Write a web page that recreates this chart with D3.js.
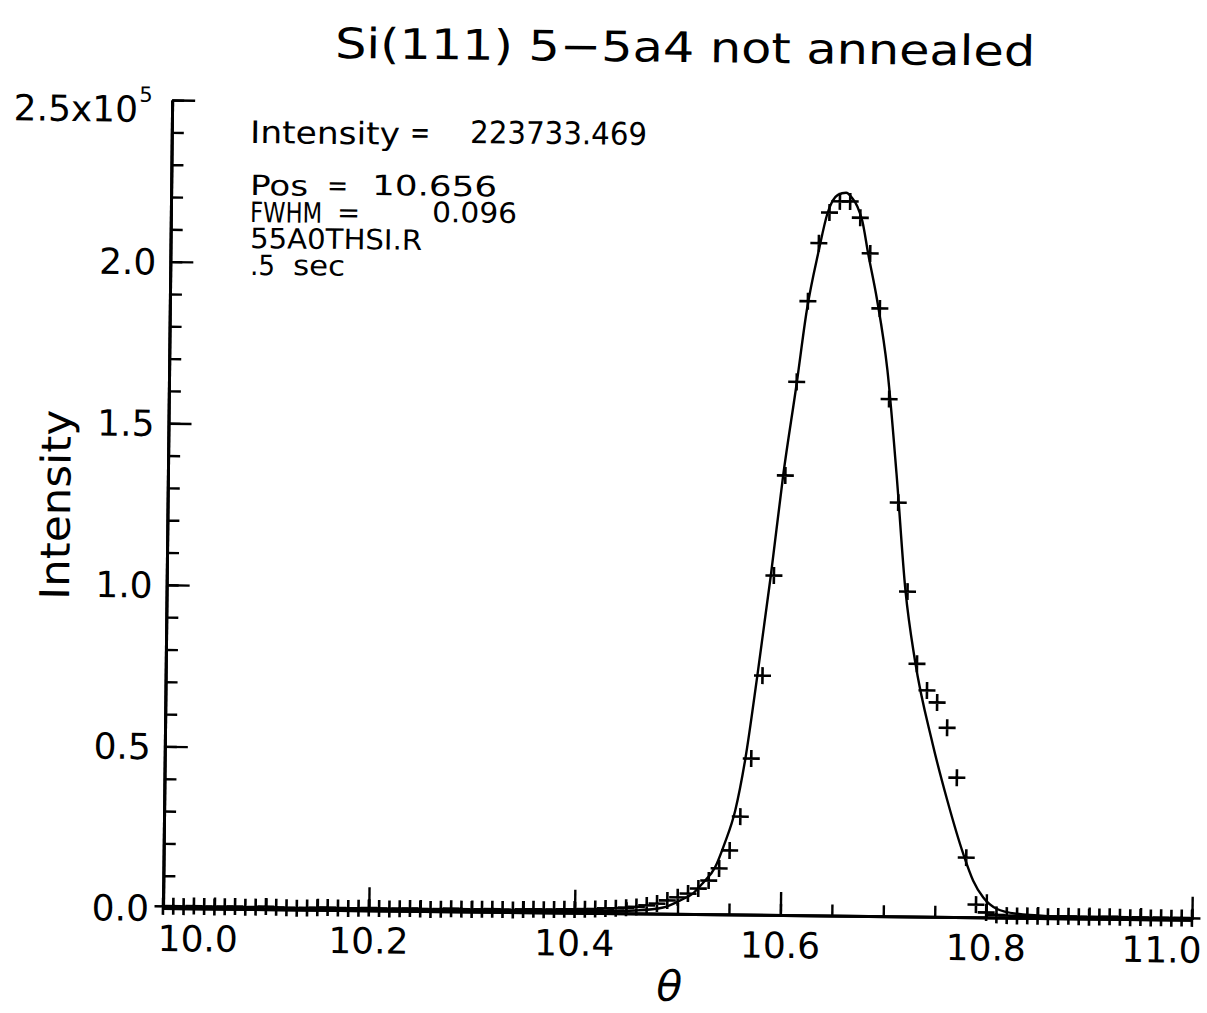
<!DOCTYPE html>
<html><head><meta charset="utf-8">
<script src="https://cdn.jsdelivr.net/npm/d3@7"></script>
<style>html,body{margin:0;padding:0;background:#fff;} svg{display:block;}</style>
</head><body>
<svg id="chart" width="1207" height="1013"></svg>
<script>
// ---------- data ----------
const thetaValues = [
 10.00,10.01,10.02,10.03,10.04,10.05,10.06,10.07,10.08,10.09,
 10.10,10.11,10.12,10.13,10.14,10.15,10.16,10.17,10.18,10.19,
 10.20,10.21,10.22,10.23,10.24,10.25,10.26,10.27,10.28,10.29,
 10.30,10.31,10.32,10.33,10.34,10.35,10.36,10.37,10.38,10.39,
 10.40,10.41,10.42,10.43,10.44,10.45,10.46,10.47,10.48,10.49,
 10.50,10.51,10.52,10.53,10.54,10.55,10.56,10.57,10.58,10.59,
 10.60,10.61,10.62,10.63,10.64,10.65,10.66,10.67,10.68,10.69,
 10.70,10.71,10.72,10.73,10.74,10.75,10.76,10.77,10.78,10.79,
 10.80,10.81,10.82,10.83,10.84,10.85,10.86,10.87,10.88,10.89,
 10.90,10.91,10.92,10.93,10.94,10.95,10.96,10.97,10.98,10.99,
 11.00];
const intensityValues = [
 500,600,500,700,600,500,600,700,500,600,
 800,600,500,400,500,600,700,600,500,600,
 700,600,500,600,700,600,500,600,800,700,
 600,700,800,700,600,800,900,800,900,1000,
 1000,1100,1200,1400,1500,1700,2000,2500,3100,4100,
 5100,6300,7900,10400,14200,19800,30300,48300,74000,105000,
 136000,165000,190000,208000,217500,221000,221000,216000,205000,188000,
 160000,128000,100500,78200,70000,66300,58500,43100,18400,3900,
 1500,800,600,500,600,500,400,500,600,500,
 400,500,600,500,400,500,400,500,400,500,
 400];
const fitTheta = [10.00,10.20,10.35,10.42,10.46,10.486,10.502,10.515,10.524,10.536,
 10.545,10.555,10.564,10.575,10.587,10.598,10.610,10.619,10.630,10.638,
 10.648,10.656,10.662,10.667,10.672,10.678,10.687,10.698,10.708,10.718,
 10.728,10.746,10.761,10.777,10.787,10.797,10.810,10.830,10.860,10.900,11.00];
const fitIntensity = [200,200,300,500,900,1900,4100,6400,9500,14500,
 21900,32200,47700,74000,105000,136300,164500,187100,205700,217200,
 223000,223700,222000,219500,215000,205000,191000,169000,137000,100800,
 79200,53600,36000,19600,11300,6100,2700,1200,600,400,300];

const xMajorTicks = [10.0,10.2,10.4,10.6,10.8,11.0];
const xTickLabels = ["10.0","10.2","10.4","10.6","10.8","11.0"];
const yMajorTicks = [0,50000,100000,150000,200000,250000];
const yTickLabels = ["0.0","0.5","1.0","1.5","2.0","2.5x10"];
const yExponent = "5";
const titleText = "Si(111) 5\u22125a4 not annealed";
const xTitle = "\u03b8";
const yTitle = "Intensity";
const noteRows = [
  [["Intensity",250,143,150],["=",410,143,20],["223733.469",470,143,177]],
  [["Pos",250,195,58],["=",327,195,21],["10.656",372,195,125]],
  [["FWHM",250,222,72],["=",337,222,23],["0.096",432,222,85]],
  [["55A0THSI.R",250,248,172]],
  [[".5",250,275,25],["sec",293,275,52]]
];

// ---------- layout ----------
const OX = 163, OY = 908;          // plot origin
const TILT = 0.65;                  // scanned page is slightly rotated
const FONT = "DejaVu Sans";

const svg = d3.select("#chart");
svg.append("rect").attr("width",1207).attr("height",1013).attr("fill","#fff");
const g = svg.append("g").attr("transform",`rotate(${TILT},${OX},${OY})`);

// convert a position measured on the (tilted) picture into the untilted frame
function unrot(px,py){
  const a = TILT*Math.PI/180, dx = px-OX, dy = py-OY;
  return [OX + dx*Math.cos(a) + dy*Math.sin(a), OY - dx*Math.sin(a) + dy*Math.cos(a)];
}

const x = d3.scaleLinear().domain([10,11]).range([163,1192]);
const y = d3.scaleLinear().domain([0,250000]).range([OY,100]);

// ---------- axes ----------
const axStyle = sel => {
  sel.selectAll("path.domain").attr("stroke","#000").attr("stroke-width",3);
  sel.selectAll(".tick line").attr("stroke","#000").attr("stroke-width",2.4);
  sel.selectAll(".tick text").remove();
};
g.append("g").attr("transform",`translate(0,${OY})`)
  .call(d3.axisBottom(x).tickValues(x.ticks(20)).tickSize(-11).tickSizeOuter(0).tickFormat(""))
  .call(axStyle);
g.append("g").attr("transform",`translate(0,${OY})`)
  .call(d3.axisBottom(x).tickValues(xMajorTicks).tickSize(-23).tickSizeOuter(0).tickFormat(""))
  .call(axStyle);
g.append("g").attr("transform",`translate(${OX},0)`)
  .call(d3.axisLeft(y).tickValues(y.ticks(25)).tickSize(-12).tickSizeOuter(0).tickFormat(""))
  .call(axStyle);
g.append("g").attr("transform",`translate(${OX},0)`)
  .call(d3.axisLeft(y).tickValues(yMajorTicks).tickSize(-23).tickSizeOuter(0).tickFormat(""))
  .call(axStyle);

// x tick labels
g.append("g").selectAll("text").data(xMajorTicks).join("text")
  .attr("x",(d,i)=> i===0 ? x(d)-5 : i===xMajorTicks.length-1 ? x(d)+10 : x(d))
  .attr("y",OY+43)
  .attr("text-anchor",(d,i)=> i===0 ? "start" : i===xMajorTicks.length-1 ? "end" : "middle")
  .attr("font-family",FONT).attr("font-size",36).attr("fill","#000")
  .text((d,i)=>xTickLabels[i]);

// y tick labels
g.append("g").selectAll("text").data(yMajorTicks).join("text")
  .attr("x",(d,i)=> i===yMajorTicks.length-1 ? 129 : 149)
  .attr("y",(d,i)=> y(d) + (i===yMajorTicks.length-1 ? 22 : 13))
  .attr("text-anchor","end")
  .attr("font-family",FONT).attr("font-size",36).attr("fill","#000")
  .text((d,i)=>yTickLabels[i]);
g.append("text").attr("x",130).attr("y",y(250000)+2)
  .attr("font-family",FONT).attr("font-size",21).attr("fill","#000").text(yExponent);

// ---------- fit curve ----------
const line = d3.line().x((d,i)=>x(fitTheta[i])).y((d,i)=>y(fitIntensity[i])).curve(d3.curveMonotoneX);
g.append("path").datum(fitTheta).attr("d",line)
  .attr("fill","none").attr("stroke","#000").attr("stroke-width",2.4);

// ---------- data markers (+) ----------
g.append("g").selectAll("path").data(thetaValues).join("path")
  .attr("transform",(d,i)=>`translate(${x(d)},${y(intensityValues[i])})`)
  .attr("d","M-8.5,0H8.5M0,-8.5V8.5")
  .attr("stroke","#000").attr("stroke-width",2.6).attr("fill","none");

// ---------- texts ----------
function addText(str,px,py,opts){
  const [tx,ty] = unrot(px,py);
  const t = g.append("text").attr("x",tx).attr("y",ty)
    .attr("font-family",FONT).attr("font-size",opts.size).attr("fill","#000")
    .attr("text-anchor",opts.anchor||"start").text(str);
  if(opts.len) t.attr("textLength",opts.len).attr("lengthAdjust","spacingAndGlyphs");
  if(opts.italic) t.attr("font-style","italic");
  if(opts.rotate) t.attr("transform",`rotate(${opts.rotate},${tx},${ty})`);
  return t;
}
addText(titleText,335,58,{size:42,len:700});
noteRows.forEach((row,ri)=>row.forEach(([s,px,py,len])=>addText(s,px,py,{size:ri===0?31:28,len})));
addText(yTitle,70,505,{size:41,len:190,anchor:"middle",rotate:-90});
addText(xTitle,669,1001,{size:42,anchor:"middle",italic:true});
</script>
</body></html>
